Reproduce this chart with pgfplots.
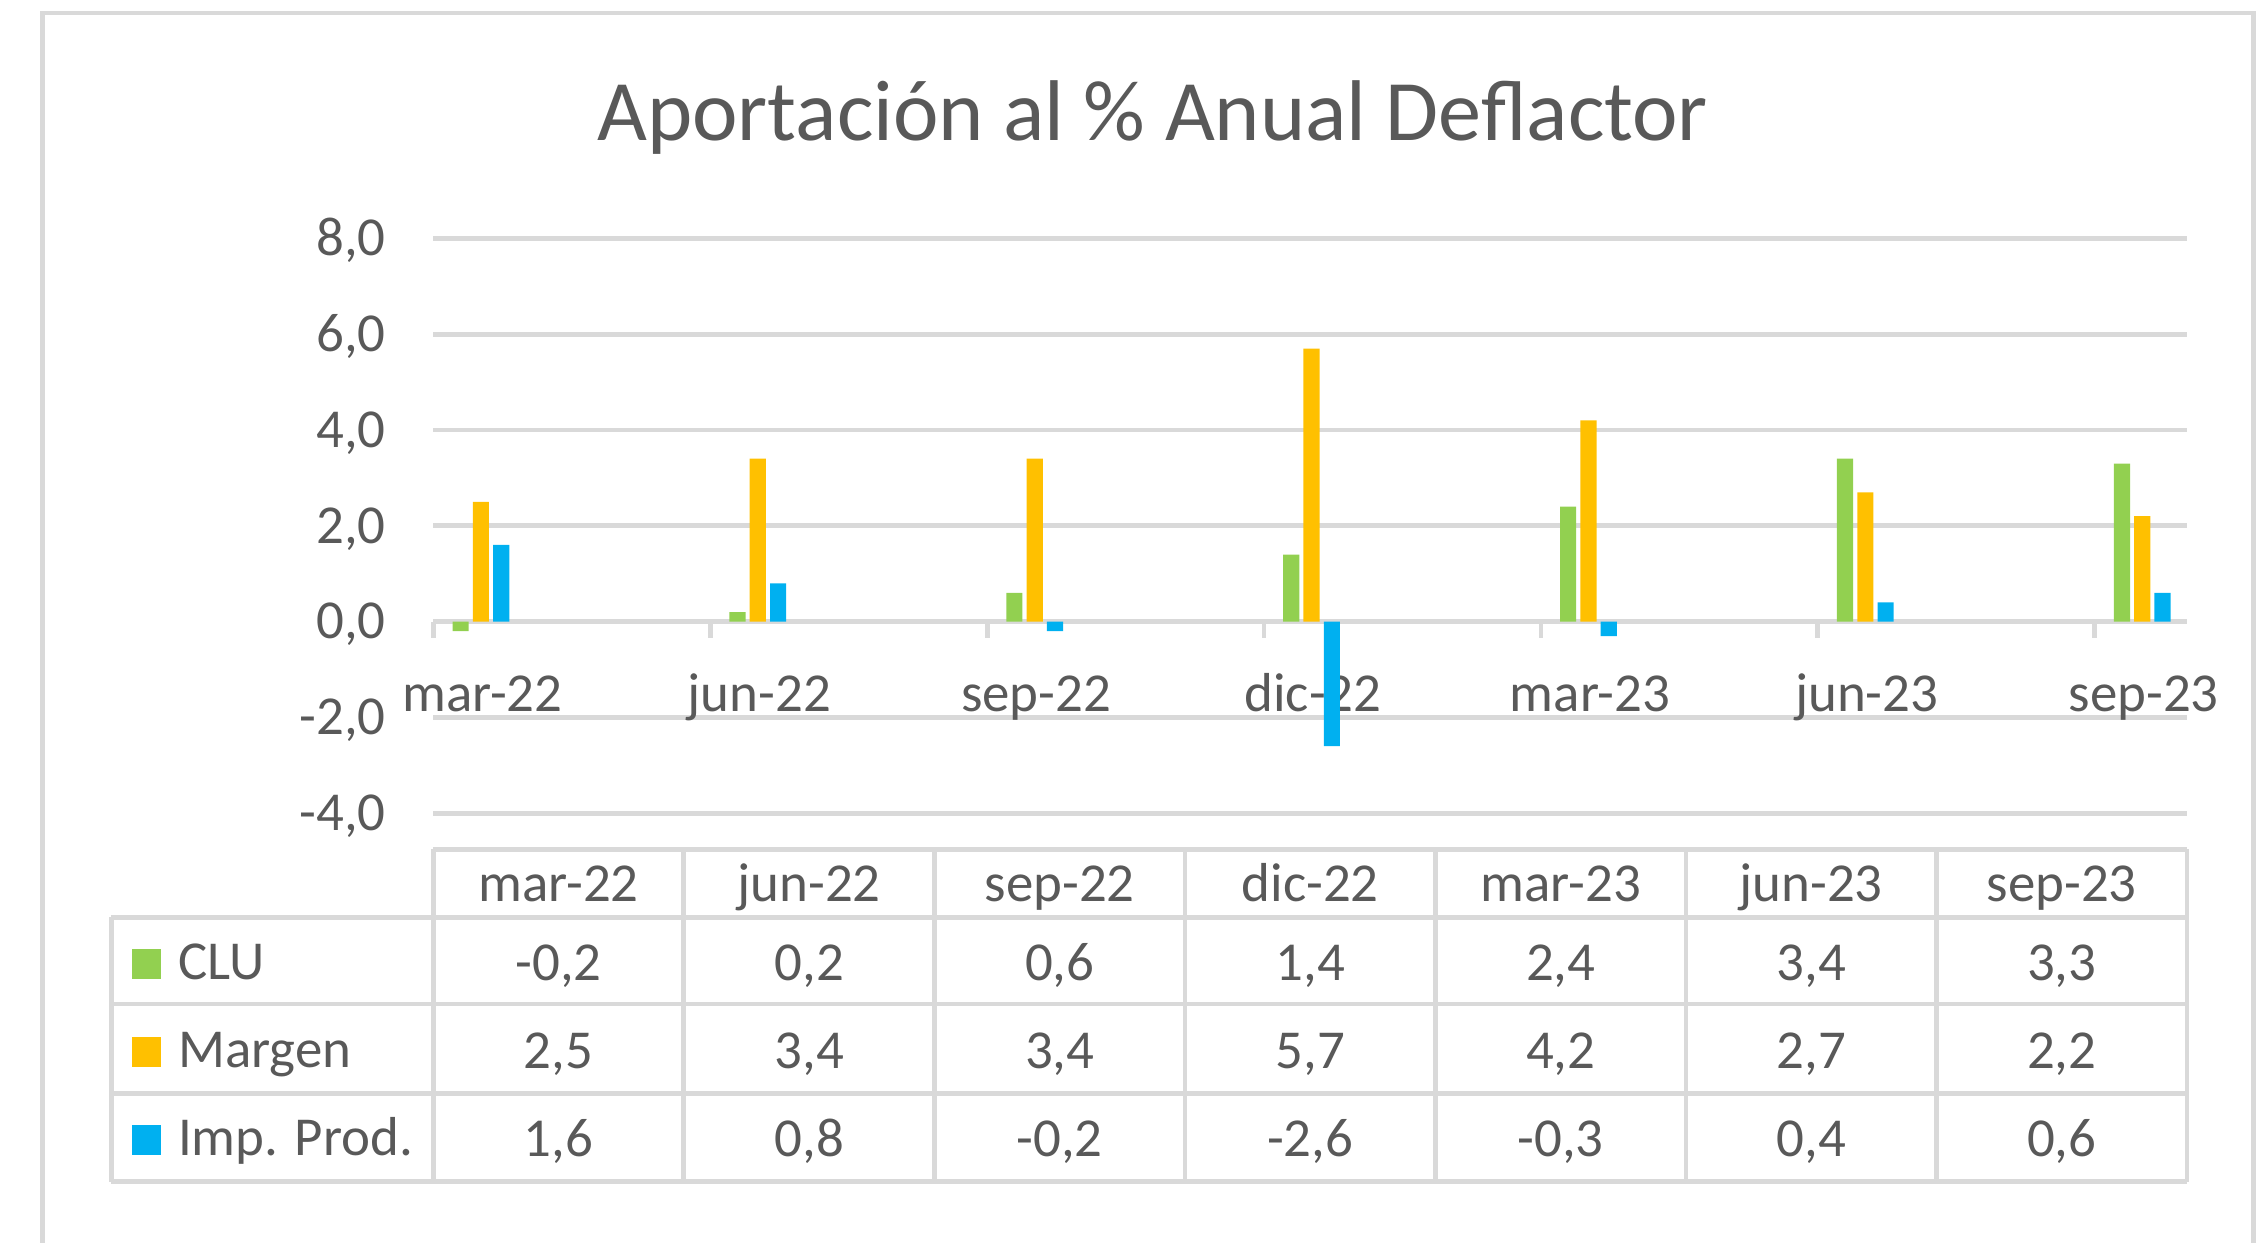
\documentclass[border=0pt]{standalone}
\usepackage{fontspec}
\setmainfont{Carlito}
\usepackage{pgfplots}
\pgfplotsset{compat=1.18}
\usepackage{pgfplotstable}
\definecolor{cgreen}{HTML}{92D050}
\definecolor{corange}{HTML}{FFC000}
\definecolor{cblue}{HTML}{00B0F0}
\definecolor{cgrid}{HTML}{D9D9D9}
\definecolor{ctext}{HTML}{595959}

% x = month index (0 = mar-22) + position of the bar in the month slot
\pgfplotstableread{
x y
0.295 -0.2
3.295 0.2
6.295 0.6
9.295 1.4
12.295 2.4
15.295 3.4
18.295 3.3
}\clu
\pgfplotstableread{
x y
0.515 2.5
3.515 3.4
6.515 3.4
9.515 5.7
12.515 4.2
15.515 2.7
18.515 2.2
}\margen
\pgfplotstableread{
x y
0.735 1.6
3.735 0.8
6.735 -0.2
9.735 -2.6
12.735 -0.3
15.735 0.4
18.735 0.6
}\imp

\begin{document}
\begin{tikzpicture}[font=\fontsize{11.4}{13.7}\selectfont, text=ctext]
\useasboundingbox (-90pt,-89.1pt) rectangle (380.4pt,168.9pt);
\draw[cgrid, line width=1pt] (-81.15pt,-95pt) -- (-81.15pt,166.2pt) -- (378pt,166.2pt) -- (378pt,-95pt);
\node[anchor=base, font=\fontsize{17.9}{21.5}\selectfont] at (149.4pt,139.8pt) {Aportación al \% Anual Deflactor};
\begin{axis}[
  scale only axis, width=364.2pt, height=119.4pt,
  xmin=0, xmax=19, ymin=-4, ymax=8,
  axis x line=middle, axis y line=left,
  x axis line style={draw=cgrid, line width=1pt, -},
  every inner x axis line/.append style={-},
  y axis line style={draw=none},
  hide obscured x ticks=false,
  xtick={0,3,...,18}, xticklabels={},
  xtick style={draw=cgrid, line width=1pt},
  ytick style={draw=none},
  tick align=outside, major tick length=3.3pt,
  extra x ticks={0.5,3.5,6.5,9.5,12.5,15.5,18.5},
  extra x tick labels={mar-22,jun-22,sep-22,dic-22,mar-23,jun-23,sep-23},
  extra x tick style={major tick length=0pt, xmajorgrids=false, tick style={draw=none},
     xticklabel style={anchor=base, yshift=-18.6pt, xshift=0.6pt}},
  ytick={-4,-2,0,2,4,6,8},
  yticklabels={{-4,0},{-2,0},{0,0},{2,0},{4,0},{6,0},{8,0}},
  ymajorgrids, major grid style={draw=cgrid, line width=1pt},
  yticklabel style={anchor=base east, yshift=-3.6pt, xshift=-3.1pt},
  tick label style={text=ctext, font=\fontsize{11.4}{13.7}\selectfont},
  clip=false,
  legend cell align=left,
  legend style={draw=none, fill=none, at={(-0.1719,-0.1809)}, anchor=north west,
    inner sep=0pt, outer sep=0pt, row sep=0pt,
    font=\fontsize{11.4}{13.7}\selectfont, text=ctext,
    nodes={inner sep=0pt, text height=12.85pt, text depth=5.45pt},
    /tikz/every odd column/.append style={column sep=3.6pt}},
]
\addplot[ybar, bar width=0.175, bar shift=0pt, fill=cgreen, draw=none,
  legend image code/.code={\fill[cgreen] (0pt,-3.65pt) rectangle (6pt,2.65pt);}] table[x=x,y=y] {\clu};
\addlegendentry{CLU}
\addplot[ybar, bar width=0.175, bar shift=0pt, fill=corange, draw=none,
  legend image code/.code={\fill[corange] (0pt,-3.65pt) rectangle (6pt,2.65pt);}] table[x=x,y=y] {\margen};
\addlegendentry{Margen}
\addplot[ybar, bar width=0.175, bar shift=0pt, fill=cblue, draw=none,
  legend image code/.code={\fill[cblue] (0pt,-3.65pt) rectangle (6pt,2.65pt);}] table[x=x,y=y] {\imp};
\addlegendentry{Imp. Prod.}
\end{axis}
% data table grid
\draw[cgrid, line width=1pt] (0pt,-7.5pt) -- (364.2pt,-7.5pt);
\foreach \y in {-21.6pt,-39.6pt,-58.2pt,-76.5pt}
  \draw[cgrid, line width=1pt] (-66.9pt,\y) -- (364.2pt,\y);
\draw[cgrid, line width=1pt] (-66.9pt,-21.6pt) -- (-66.9pt,-76.5pt);
\foreach \i in {0,...,7}
  \draw[cgrid, line width=1pt] ({\i*52.0286pt},-7.5pt) -- ({\i*52.0286pt},-76.5pt);
\foreach \t [count=\i] in {mar-22,jun-22,sep-22,dic-22,mar-23,jun-23,sep-23}
  \node[anchor=base] at ({(\i-0.5)*52.0286pt},-18.4pt) {\t};
\foreach \t [count=\i] in {{-0,2},{0,2},{0,6},{1,4},{2,4},{3,4},{3,3}}
  \node[anchor=base] at ({(\i-0.5)*52.0286pt},-34.7pt) {\t};
\foreach \t [count=\i] in {{2,5},{3,4},{3,4},{5,7},{4,2},{2,7},{2,2}}
  \node[anchor=base] at ({(\i-0.5)*52.0286pt},-53pt) {\t};
\foreach \t [count=\i] in {{1,6},{0,8},{-0,2},{-2,6},{-0,3},{0,4},{0,6}}
  \node[anchor=base] at ({(\i-0.5)*52.0286pt},-71.3pt) {\t};
\end{tikzpicture}
\end{document}
